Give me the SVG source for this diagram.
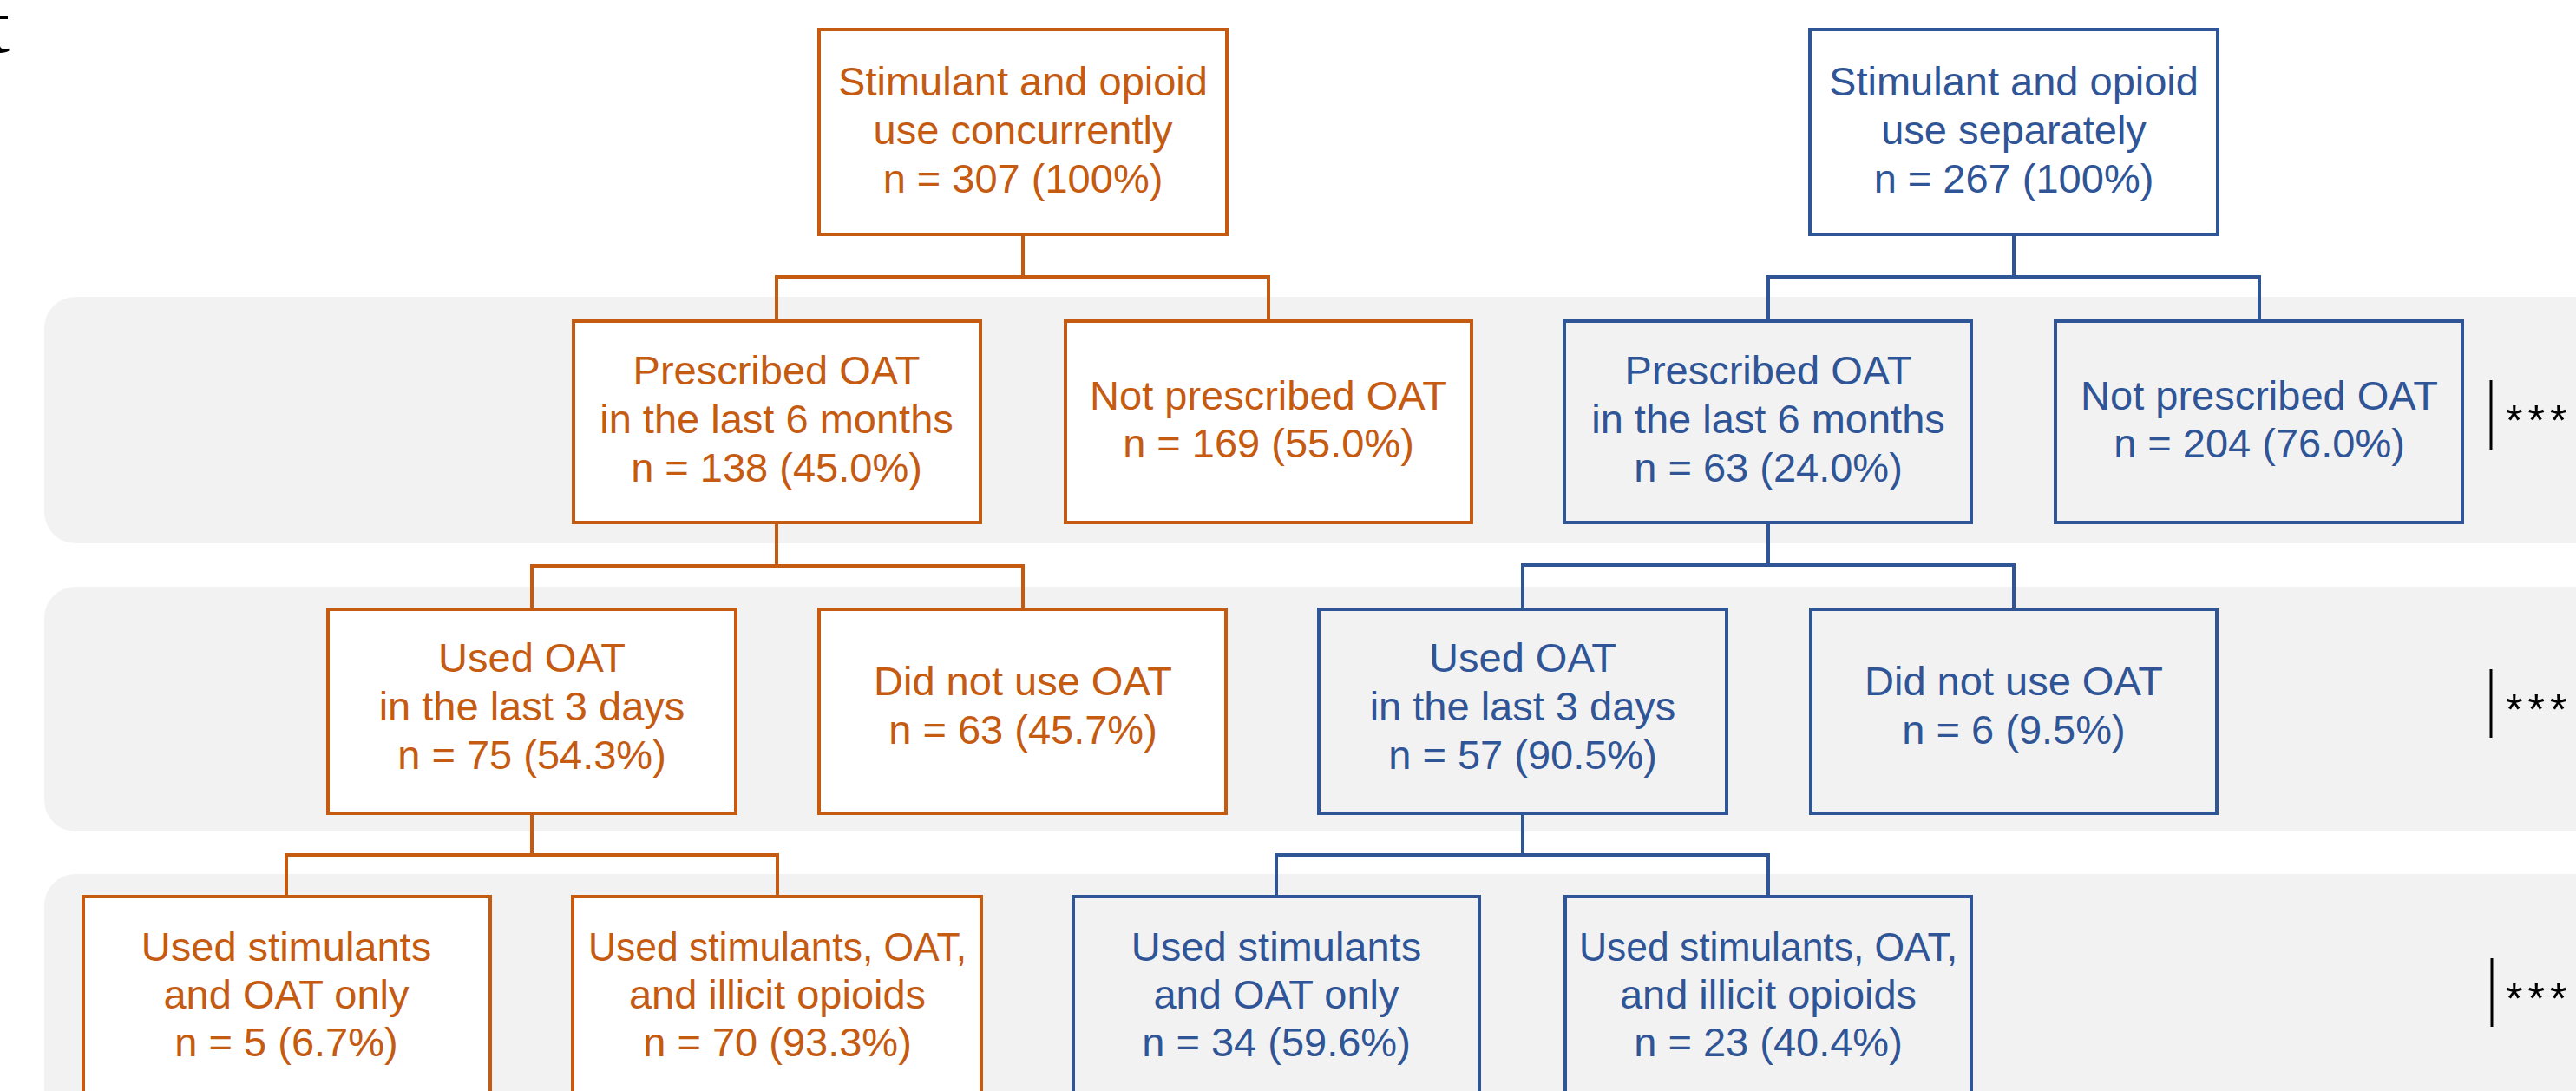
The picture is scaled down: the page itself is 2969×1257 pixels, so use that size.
<svg xmlns="http://www.w3.org/2000/svg" width="2969" height="1257" viewBox="0 0 2969 1257">
<style>
.band{fill:#f2f2f2;}
.ob{fill:#ffffff;stroke:#c55a11;stroke-width:4;}
.bb{fill:none;stroke:#2f5597;stroke-width:4;}
.oc{fill:none;stroke:#c55a11;stroke-width:4;}
.bc{fill:none;stroke:#2f5597;stroke-width:4;}
text{font-family:"Liberation Sans",Arial,sans-serif;font-size:47px;text-anchor:middle;}
.ot{fill:#c55a11;}
.bt{fill:#2f5597;}
.sig{fill:#000;font-size:50px;text-anchor:start;letter-spacing:6px;}
.mark{stroke:#000;stroke-width:3;}
</style>
<rect width="2969" height="1257" fill="#ffffff"/>
<text x="-14" y="60" style="font-family:'Liberation Serif',serif;font-size:90px;text-anchor:start;fill:#000">t</text>
<g id="bands">
<rect class="band" x="51" y="342" width="3000" height="284" rx="36"/>
<rect class="band" x="51" y="676" width="3000" height="282" rx="36"/>
<rect class="band" x="51" y="1007" width="3000" height="320" rx="36"/>
</g>
<g id="connectors">
<path class="oc" d="M1179 270V319M895 370V319H1462V370"/>
<path class="bc" d="M2321 270V319M2038 370V319H2604V370"/>
<path class="oc" d="M895 602V652M613 702V652H1179V702"/>
<path class="bc" d="M2038 602V651M1755 702V651H2321V702"/>
<path class="oc" d="M613 937V985M330 1033V985H896V1033"/>
<path class="bc" d="M1755 937V985M1471 1033V985H2038V1033"/>
</g>
<g id="n-concurrent">
<rect class="ob" x="944" y="34" width="470" height="236"/>
<text class="ot" x="1179" y="110">Stimulant and opioid</text>
<text class="ot" x="1179" y="166">use concurrently</text>
<text class="ot" x="1179" y="222">n = 307 (100%)</text>
</g>
<g id="n-separate">
<rect class="bb" x="2086" y="34" width="470" height="236"/>
<text class="bt" x="2321" y="110">Stimulant and opioid</text>
<text class="bt" x="2321" y="166">use separately</text>
<text class="bt" x="2321" y="222">n = 267 (100%)</text>
</g>
<g id="n-c-prescribed">
<rect class="ob" x="661" y="370" width="469" height="232"/>
<text class="ot" x="895" y="443">Prescribed OAT</text>
<text class="ot" x="895" y="499">in the last 6 months</text>
<text class="ot" x="895" y="555">n = 138 (45.0%)</text>
</g>
<g id="n-c-notprescribed">
<rect class="ob" x="1228" y="370" width="468" height="232"/>
<text class="ot" x="1462" y="472">Not prescribed OAT</text>
<text class="ot" x="1462" y="527">n = 169 (55.0%)</text>
</g>
<g id="n-s-prescribed">
<rect class="bb" x="1803" y="370" width="469" height="232"/>
<text class="bt" x="2038" y="443">Prescribed OAT</text>
<text class="bt" x="2038" y="499">in the last 6 months</text>
<text class="bt" x="2038" y="555">n = 63 (24.0%)</text>
</g>
<g id="n-s-notprescribed">
<rect class="bb" x="2369" y="370" width="469" height="232"/>
<text class="bt" x="2604" y="472">Not prescribed OAT</text>
<text class="bt" x="2604" y="527">n = 204 (76.0%)</text>
</g>
<g id="n-c-used">
<rect class="ob" x="378" y="702" width="470" height="235"/>
<text class="ot" x="613" y="774">Used OAT</text>
<text class="ot" x="613" y="830">in the last 3 days</text>
<text class="ot" x="613" y="886">n = 75 (54.3%)</text>
</g>
<g id="n-c-notused">
<rect class="ob" x="944" y="702" width="469" height="235"/>
<text class="ot" x="1179" y="801">Did not use OAT</text>
<text class="ot" x="1179" y="857">n = 63 (45.7%)</text>
</g>
<g id="n-s-used">
<rect class="bb" x="1520" y="702" width="470" height="235"/>
<text class="bt" x="1755" y="774">Used OAT</text>
<text class="bt" x="1755" y="830">in the last 3 days</text>
<text class="bt" x="1755" y="886">n = 57 (90.5%)</text>
</g>
<g id="n-s-notused">
<rect class="bb" x="2087" y="702" width="468" height="235"/>
<text class="bt" x="2321" y="801">Did not use OAT</text>
<text class="bt" x="2321" y="857">n = 6 (9.5%)</text>
</g>
<g id="n-c-oatonly">
<rect class="ob" x="96" y="1033" width="469" height="300"/>
<text class="ot" x="330" y="1107">Used stimulants</text>
<text class="ot" x="330" y="1162">and OAT only</text>
<text class="ot" x="330" y="1217">n = 5 (6.7%)</text>
</g>
<g id="n-c-illicit">
<rect class="ob" x="660" y="1033" width="471" height="300"/>
<text class="ot" x="896" y="1107" textLength="436" lengthAdjust="spacingAndGlyphs">Used stimulants, OAT,</text>
<text class="ot" x="896" y="1162">and illicit opioids</text>
<text class="ot" x="896" y="1217">n = 70 (93.3%)</text>
</g>
<g id="n-s-oatonly">
<rect class="bb" x="1237" y="1033" width="468" height="300"/>
<text class="bt" x="1471" y="1107">Used stimulants</text>
<text class="bt" x="1471" y="1162">and OAT only</text>
<text class="bt" x="1471" y="1217">n = 34 (59.6%)</text>
</g>
<g id="n-s-illicit">
<rect class="bb" x="1804" y="1033" width="468" height="300"/>
<text class="bt" x="2038" y="1107" textLength="436" lengthAdjust="spacingAndGlyphs">Used stimulants, OAT,</text>
<text class="bt" x="2038" y="1162">and illicit opioids</text>
<text class="bt" x="2038" y="1217">n = 23 (40.4%)</text>
</g>
<g id="significance">
<line class="mark" x1="2871" y1="438" x2="2871" y2="518"/>
<text class="sig" x="2888" y="502">***</text>
<line class="mark" x1="2871" y1="771" x2="2871" y2="850"/>
<text class="sig" x="2888" y="835">***</text>
<line class="mark" x1="2872" y1="1104" x2="2872" y2="1183"/>
<text class="sig" x="2888" y="1168">***</text>
</g>
</svg>
